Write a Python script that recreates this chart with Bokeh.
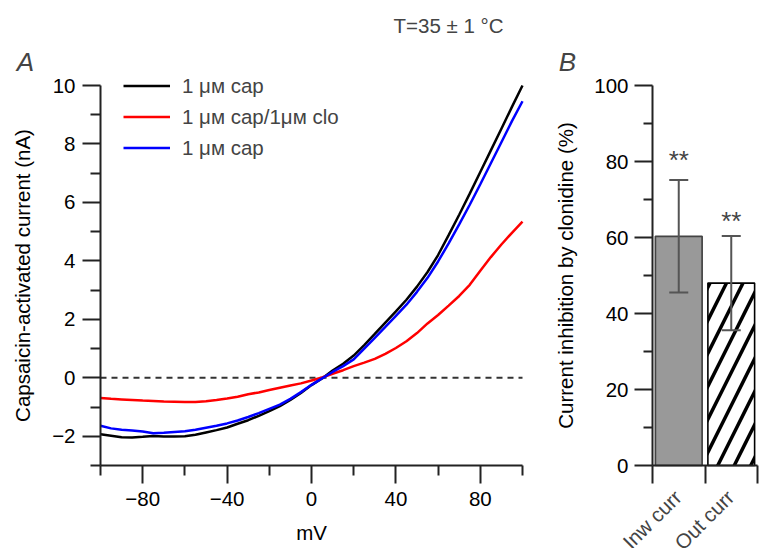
import math
from bokeh.plotting import figure
from bokeh.layouts import row
from bokeh.models import (FixedTicker, Legend, LegendItem, Label, Whisker,
                          TeeHead, ColumnDataSource, Range1d)
from bokeh.embed import file_html
from bokeh.resources import INLINE

# ---------------- data: panel A (I-V curves) ----------------
mv = [-100, -95, -90, -85, -80, -75, -70, -65, -60, -55, -50, -45, -40, -35, -30,
      -25, -20, -15, -10, -5, 0, 5, 10, 15, 20, 25, 30, 35, 40, 45, 50, 55, 60,
      65, 70, 75, 80, 85, 90, 95, 100]
cap_first = [-1.93, -1.98, -2.03, -2.04, -2.02, -1.99, -2.01, -2.01, -2.00, -1.95,
             -1.87, -1.79, -1.70, -1.57, -1.45, -1.30, -1.14, -0.97, -0.76, -0.52,
             -0.25, -0.02, 0.25, 0.48, 0.76, 1.12, 1.50, 1.89, 2.27, 2.67, 3.12,
             3.62, 4.20, 4.88, 5.58, 6.30, 7.04, 7.78, 8.52, 9.27, 10.00]
cap_clo = [-0.69, -0.72, -0.74, -0.76, -0.78, -0.79, -0.81, -0.82, -0.83, -0.83,
           -0.80, -0.76, -0.71, -0.65, -0.56, -0.50, -0.42, -0.34, -0.26, -0.19,
           -0.09, 0.01, 0.14, 0.26, 0.40, 0.52, 0.65, 0.82, 1.02, 1.25, 1.53,
           1.86, 2.15, 2.47, 2.80, 3.18, 3.66, 4.13, 4.56, 4.96, 5.34]
cap_second = [-1.64, -1.73, -1.78, -1.80, -1.84, -1.90, -1.88, -1.85, -1.83, -1.78,
              -1.71, -1.64, -1.56, -1.46, -1.34, -1.21, -1.06, -0.92, -0.72, -0.49,
              -0.24, -0.02, 0.20, 0.40, 0.63, 1.00, 1.37, 1.74, 2.12, 2.50, 2.94,
              3.42, 3.98, 4.60, 5.25, 5.92, 6.62, 7.34, 8.06, 8.78, 9.46]
series_labels = ["1 μм cap", "1 μм cap/1μм clo", "1 μм cap"]
series_colors = ["#000000", "#ff0000", "#0000ff"]

x_major = [-80, -40, 0, 40, 80]
x_major_labels = ["−80", "−40", "0", "40", "80"]
x_minor = [-100, -60, -20, 20, 60, 100]
y_major = [-2, 0, 2, 4, 6, 8, 10]
y_major_labels = ["−2", "0", "2", "4", "6", "8", "10"]
y_minor = [-3, -1, 1, 3, 5, 7, 9]

# ---------------- data: panel B (bars) ----------------
categories = ["Inw curr", "Out curr"]
inhibition = [60.3, 48.0]
inhibition_err = [14.8, 12.4]
significance = ["**", "**"]
b_major = [0, 20, 40, 60, 80, 100]
b_minor = [10, 30, 50, 70, 90]

FONT = "Liberation Sans"
FS = "20.5px"
AX = "#222222"

# ---------------- layout (pixels) ----------------
H = 548
WA, WB = 545, 216
A_X0, A_X1, A_YT, A_YB = 100, 522, 85, 465     # frame of panel A axes
B_X0, B_X1 = 652 - WA, 757 - WA                  # panel B axes (within its canvas)
XA = (-100, 100)
YA = (-3, 10)
XB = (0, 2)
YB = (0, 100)


def axis_range(lo, hi, p0, p1, total):
    s = (p1 - p0) / (hi - lo)
    return Range1d(lo - p0 / s, hi + (total - p1) / s)


def style_axis(ax):
    ax.axis_line_color = AX
    ax.axis_line_width = 2
    ax.major_tick_line_color = AX
    ax.major_tick_line_width = 2
    ax.minor_tick_line_color = AX
    ax.minor_tick_line_width = 2
    ax.major_tick_in = 0
    ax.minor_tick_in = 0
    ax.major_tick_out = 18
    ax.minor_tick_out = 10
    ax.major_label_text_font = FONT
    ax.major_label_text_font_size = FS
    ax.major_label_text_color = "black"
    ax.axis_label_text_font = FONT
    ax.axis_label_text_font_size = FS
    ax.axis_label_text_font_style = "normal"
    ax.axis_label_text_color = "black"


def base_fig(w, xr, yr):
    p = figure(width=w, height=H, x_range=xr, y_range=yr, output_backend="svg",
               toolbar_location=None, min_border=0, min_border_left=0, min_border_right=0,
               min_border_top=0, min_border_bottom=0)
    p.title.visible = False
    p.outline_line_color = None
    p.grid.visible = False
    return p


# ---------------- panel A ----------------
pA = base_fig(WA,
              axis_range(XA[0], XA[1], A_X0, A_X1, WA),
              axis_range(YA[0], YA[1], H - A_YB, H - A_YT, H))

pA.line([mv[0], mv[-1]], [0, 0], line_color="#333333", line_width=2, line_dash="6 5")

renderers = []
for ys, col in zip([cap_first, cap_clo, cap_second], series_colors):
    renderers.append(pA.line(mv, ys, line_color=col, line_width=2.5))

legend = Legend(items=[LegendItem(label=lab, renderers=[r]) for lab, r in zip(series_labels, renderers)],
                location=(123, H - 163), glyph_width=47, glyph_height=31, label_height=31,
                spacing=0, padding=0, margin=0, label_standoff=12,
                border_line_color=None, background_fill_alpha=0,
                label_text_font=FONT, label_text_font_size=FS)
pA.add_layout(legend)

style_axis(pA.xaxis[0])
style_axis(pA.yaxis[0])
pA.xaxis.fixed_location = YA[0]
pA.xaxis.bounds = XA
pA.xaxis.ticker = FixedTicker(ticks=x_major, minor_ticks=x_minor)
pA.xaxis.major_label_overrides = {t: l for t, l in zip(x_major, x_major_labels)}
pA.xaxis.axis_label = "mV"
pA.xaxis.major_label_standoff = 8
pA.xaxis.axis_label_standoff = 12
pA.yaxis.fixed_location = XA[0]
pA.yaxis.bounds = YA
pA.yaxis.ticker = FixedTicker(ticks=y_major, minor_ticks=y_minor)
pA.yaxis.major_label_overrides = {t: l for t, l in zip(y_major, y_major_labels)}
pA.yaxis.axis_label = "Capsaicin-activated current (nA)"
pA.yaxis.major_label_standoff = 7
pA.yaxis.axis_label_standoff = 15

pA.add_layout(Label(x=25, y=H - 61, x_units="screen", y_units="screen", text="A",
                    text_font=FONT, text_font_size="26px", text_font_style="italic",
                    text_align="center", text_baseline="middle"))
pA.add_layout(Label(x=448, y=H - 25, x_units="screen", y_units="screen", text="T=35 ± 1 °C",
                    text_font=FONT, text_font_size=FS,
                    text_align="center", text_baseline="middle"))

# ---------------- panel B ----------------
pB = base_fig(WB,
              axis_range(XB[0], XB[1], B_X0, B_X1, WB),
              axis_range(YB[0], YB[1], H - A_YB, H - A_YT, H))

xc = [i + 0.5 for i in range(len(categories))]
pB.vbar(x=[xc[0]], top=[inhibition[0]], width=0.89, fill_color="#999999",
        line_color="#444444", line_width=1.7)
pB.vbar(x=[xc[1]], top=[inhibition[1]], width=0.89, fill_color="white",
        line_color="black", line_width=1.6, hatch_pattern="/", hatch_color="black",
        hatch_weight=3.5, hatch_scale=33)

err_src = ColumnDataSource(dict(base=xc,
                                upper=[v + e for v, e in zip(inhibition, inhibition_err)],
                                lower=[v - e for v, e in zip(inhibition, inhibition_err)]))
pB.add_layout(Whisker(source=err_src, base="base", upper="upper", lower="lower",
                      dimension="height", line_color="#555555", line_width=2, level="overlay",
                      upper_head=TeeHead(size=19, line_color="#555555", line_width=2),
                      lower_head=TeeHead(size=19, line_color="#555555", line_width=2)))

star_offsets = [20, 15]
for x, v, e, s, off in zip(xc, inhibition, inhibition_err, significance, star_offsets):
    pB.add_layout(Label(x=x, y=v + e, y_offset=off, text=s, text_font=FONT,
                        text_font_size="26px", text_align="center", text_baseline="middle"))

for x, c in zip(xc, categories):
    pB.add_layout(Label(x=x, y=YB[0], x_offset=-1, y_offset=-28, text=c, angle=math.pi / 4,
                        text_font=FONT, text_font_size=FS,
                        text_align="right", text_baseline="middle"))

style_axis(pB.xaxis[0])
style_axis(pB.yaxis[0])
pB.xaxis.fixed_location = YB[0]
pB.xaxis.bounds = XB
pB.xaxis.ticker = FixedTicker(ticks=[], minor_ticks=[0, 1, 2])
pB.xaxis.minor_tick_out = 18
pB.xaxis.major_label_text_font_size = "0px"
pB.yaxis.fixed_location = XB[0]
pB.yaxis.bounds = YB
pB.yaxis.ticker = FixedTicker(ticks=b_major, minor_ticks=b_minor)
pB.yaxis.minor_tick_out = 9
pB.yaxis.axis_label = "Current inhibition by clonidine (%)"
pB.yaxis.major_label_standoff = 6
pB.yaxis.axis_label_standoff = 14

pB.add_layout(Label(x=567 - WA, y=H - 61, x_units="screen", y_units="screen", text="B",
                    text_font=FONT, text_font_size="26px", text_font_style="italic",
                    text_align="center", text_baseline="middle"))

layout = row(pA, pB)
open("out.html", "w").write(file_html(layout, INLINE))
